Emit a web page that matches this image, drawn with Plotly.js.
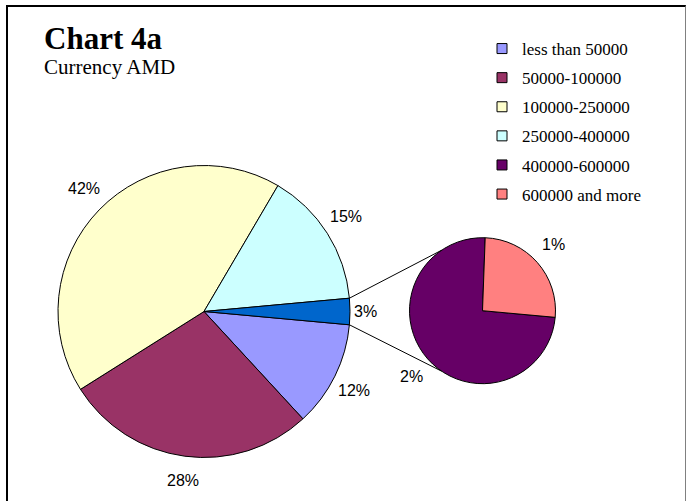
<!DOCTYPE html>
<html><head><meta charset="utf-8">
<script src="https://cdn.plot.ly/plotly-3.0.1.min.js"></script>
<style>
html,body{margin:0;padding:0;overflow:hidden;background:#fff;}
#chart{position:absolute;left:0;top:0;width:687px;height:501px;}
#frame{position:absolute;left:6px;top:5px;width:677px;height:500px;border-left:2px solid #000;border-top:2px solid #000;border-right:1px solid #808080;pointer-events:none;}
</style></head><body>
<div id="chart"></div><div id="frame"></div>
<script>
// ---- data ----
const mainLabels = ['less than 50000', '50000-100000', '100000-250000', '250000-400000'];
const mainValues = [11.7, 27.9, 42.4, 15.1];
const mainColors = ['#9999FF', '#993366', '#FFFFCC', '#CCFFFF'];
const subLabels = ['400000-600000', '600000 and more'];
const subValues = [2.15, 0.75];
const subColors = ['#660066', '#FF8080'];
const otherLabel = 'Other';
const otherColor = '#0066CC';
const chartTitle = 'Chart 4a';
const chartSubtitle = 'Currency AMD';

// ---- geometry ----
const W = 687, H = 501;
const mainCx = 204, mainCy = 311.5, mainR = 146;
const subCx = 482.5, subCy = 310.7, subR = 73;
const SERIF = 'Liberation Serif';
const SANS = 'Liberation Sans';
function dom(cx, cy, r) {
  return {x: [(cx - r) / W, (cx + r) / W], y: [1 - (cy + r) / H, 1 - (cy - r) / H]};
}
const otherValue = subValues.reduce((a, b) => a + b, 0);
const total = mainValues.reduce((a, b) => a + b, 0) + otherValue;
const rot = 90 + (otherValue / total * 360) / 2;
const pct = v => Math.round(v / total * 100) + '%';
const px = (cx, ang, d) => cx + d * Math.sin(ang * Math.PI / 180);
const py = (cy, ang, d) => cy - d * Math.cos(ang * Math.PI / 180);

const allMainVals = mainValues.concat([otherValue]);
const traces = [];
traces.push({
  type: 'pie', labels: mainLabels.concat([otherLabel]), values: allMainVals,
  marker: {colors: mainColors.concat([otherColor]), line: {color: '#000', width: 1}},
  sort: false, direction: 'clockwise', rotation: rot, textinfo: 'none',
  hoverinfo: 'label+percent', showlegend: false, domain: dom(mainCx, mainCy, mainR)
});
traces.push({
  type: 'pie', labels: subLabels, values: subValues,
  marker: {colors: subColors, line: {color: '#000', width: 1}},
  sort: false, direction: 'clockwise', rotation: rot, textinfo: 'none',
  hoverinfo: 'label', showlegend: false, domain: dom(subCx, subCy, subR)
});
// legend proxies
const legLabels = mainLabels.concat(subLabels);
const legColors = mainColors.concat(subColors);
legLabels.forEach((l, i) => traces.push({
  type: 'scatter', x: [null], y: [null], mode: 'markers', name: l, legendgroup: 'g' + i,
  marker: {symbol: 'square', size: 10, color: legColors[i], line: {color: '#000', width: 1}},
  showlegend: true, hoverinfo: 'skip'
}));

// percentage labels (percent of grand total), placed outside each slice
const annotations = [];
function addLabels(vals, cx, cy, r, gap) {
  const sum = vals.reduce((a, b) => a + b, 0);
  let cum = 0;
  vals.forEach(v => {
    const mid = rot + (cum + v / 2) / sum * 360;
    cum += v;
    const t = pct(v);
    const hw = ((t.length - 1) * 8.9 + 14.2) / 2, hh = 8;
    const s = Math.abs(Math.sin(mid * Math.PI / 180)), c = Math.abs(Math.cos(mid * Math.PI / 180));
    const d = r + gap + hw * s + hh * c;
    const xx = cx + (px(cx, mid, d) - cx) * 0.97;
    const yy = cy + (py(cy, mid, d) - cy) * 1.03;
    annotations.push({
      text: t, x: xx / W, y: 1 - yy / H, xref: 'paper', yref: 'paper',
      xanchor: 'center', yanchor: 'middle', showarrow: false,
      font: {family: SANS, size: 16, color: '#000'}
    });
  });
}
addLabels(allMainVals, mainCx, mainCy, mainR, 9);
addLabels(subValues, subCx, subCy, subR, 10);

annotations.push({
  text: '<b>' + chartTitle + '</b>', x: 42 / W, y: 1 - 38.5 / H, xref: 'paper', yref: 'paper',
  xanchor: 'left', yanchor: 'middle', showarrow: false,
  font: {family: SERIF, size: 31, color: '#000'}
});
annotations.push({
  text: chartSubtitle, x: 42 / W, y: 1 - 67 / H, xref: 'paper', yref: 'paper',
  xanchor: 'left', yanchor: 'middle', showarrow: false,
  font: {family: SERIF, size: 21, color: '#000'}
});

// connector lines between the "other" slice and the secondary pie
const halfOther = (otherValue / total * 360) / 2;
const aTop = 90 - halfOther, aBot = 90 + halfOther;
const subTop = -34, subBot = 214;
const shapes = [
  {type: 'line', xref: 'paper', yref: 'paper',
   x0: px(mainCx, aTop, mainR) / W, y0: 1 - py(mainCy, aTop, mainR) / H,
   x1: px(subCx, subTop, subR) / W, y1: 1 - py(subCy, subTop, subR) / H,
   line: {color: '#000', width: 1}},
  {type: 'line', xref: 'paper', yref: 'paper',
   x0: px(mainCx, aBot, mainR) / W, y0: 1 - py(mainCy, aBot, mainR) / H,
   x1: px(subCx, subBot, subR) / W, y1: 1 - py(subCy, subBot, subR) / H,
   line: {color: '#000', width: 1}}
];

const layout = {
  width: W, height: H, margin: {l: 0, r: 0, t: 0, b: 0},
  font: {family: SERIF, size: 17, color: '#000'},
  paper_bgcolor: '#fff', plot_bgcolor: 'rgba(0,0,0,0)',
  xaxis: {visible: false, domain: [0.99, 1]}, yaxis: {visible: false, domain: [0.99, 1]},
  showlegend: true,
  legend: {x: 482 / W, y: 1 - 31 / H, xanchor: 'left', yanchor: 'top', traceorder: 'grouped',
           tracegroupgap: 4, bgcolor: 'rgba(0,0,0,0)', borderwidth: 0,
           font: {family: SERIF, size: 17, color: '#000'}},
  annotations: annotations, shapes: shapes
};
Plotly.newPlot('chart', traces, layout, {displayModeBar: false, staticPlot: true});
</script>
</body></html>
